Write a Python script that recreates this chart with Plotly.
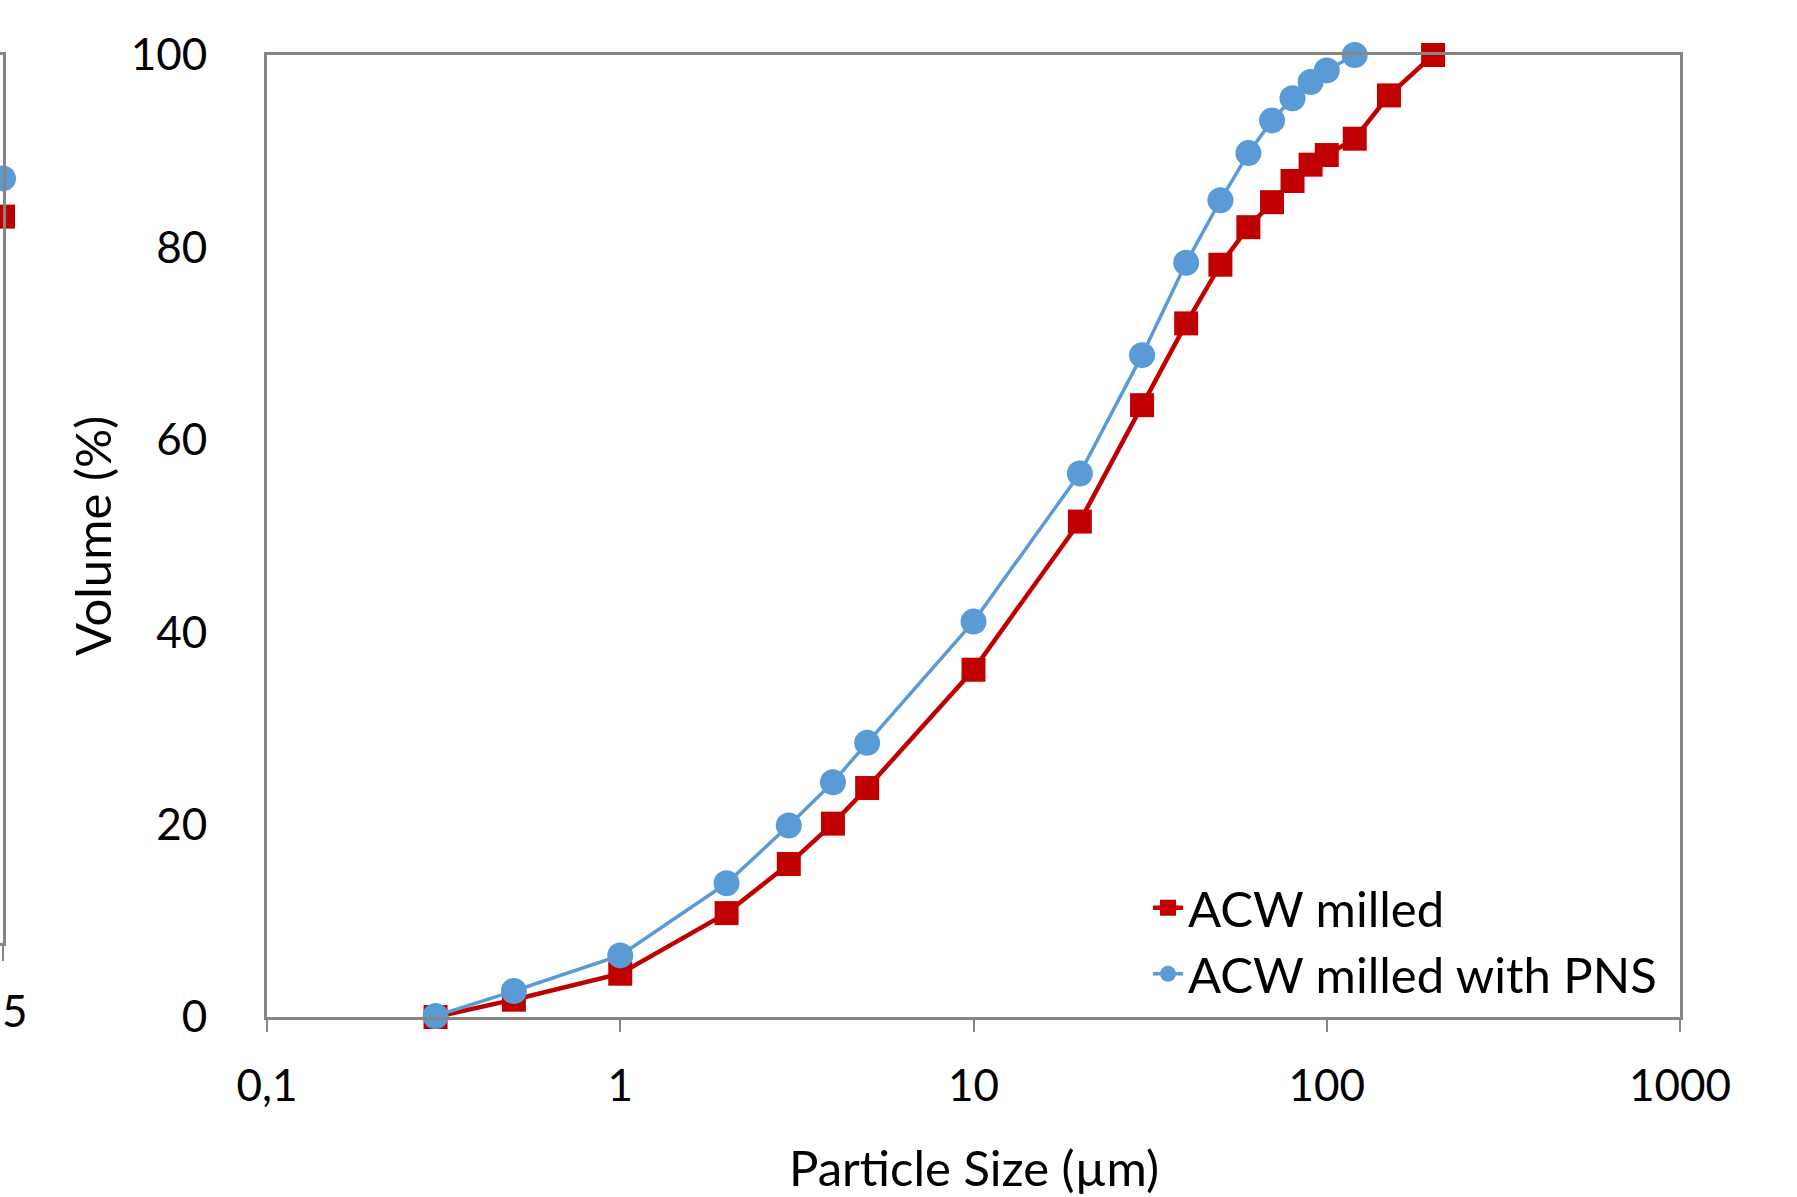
import plotly.graph_objects as go

# ---- data ----
size_um = [0.3, 0.5, 1, 2, 3, 4, 5, 10, 20, 30, 40, 50, 60, 70, 80, 90, 100, 120, 150, 200]
acw_milled = [0.0, 1.8, 4.5, 10.8, 15.9, 20.1, 23.8, 36.1, 51.5, 63.6, 72.1, 78.2, 82.1, 84.7, 86.9, 88.6, 89.6, 91.3, 95.8, 100.0]

size_um_pns = [0.3, 0.5, 1, 2, 3, 4, 5, 10, 20, 30, 40, 50, 60, 70, 80, 90, 100, 120]
acw_milled_pns = [0.1, 2.7, 6.4, 13.9, 19.9, 24.4, 28.5, 41.1, 56.5, 68.8, 78.4, 84.9, 89.8, 93.2, 95.5, 97.2, 98.4, 100.0]

x_tick_vals = [0.1, 1, 10, 100, 1000]
x_tick_text = ["0,1", "1", "10", "100", "1000"]
y_tick_vals = [0, 20, 40, 60, 80, 100]

# neighbouring (cropped) chart at the left edge: only its last points are visible
neighbor_x = [50]
neighbor_red = [81.8]
neighbor_blue = [86.1]
neighbor_tick_text = "5"

RED = "#C00000"
BLUE = "#5B9BD5"
AXIS = "#868686"
FONT = "Lato"
W, H = 1797, 1197


def px(x):
    return x / W


def py(y):
    return (H - y) / H


# pixel geometry of main plot area
L, R, T, B = 267, 1680, 55, 1017

fig = go.Figure()

fig.add_trace(go.Scatter(
    x=size_um, y=acw_milled, mode="lines+markers", name="ACW milled",
    line=dict(color=RED, width=4.5),
    marker=dict(symbol="square", size=24, color=RED),
    legend="legend", cliponaxis=False,
))
fig.add_trace(go.Scatter(
    x=size_um_pns, y=acw_milled_pns, mode="lines+markers", name="ACW milled with PNS",
    line=dict(color=BLUE, width=3.5),
    marker=dict(symbol="circle", size=26, color=BLUE),
    legend="legend2", cliponaxis=False,
))

# neighbour chart fragments
fig.add_trace(go.Scatter(
    x=neighbor_x, y=neighbor_blue, mode="markers", xaxis="x2", yaxis="y2",
    marker=dict(symbol="circle", size=26, color=BLUE), showlegend=False, cliponaxis=False,
))
fig.add_trace(go.Scatter(
    x=neighbor_x, y=neighbor_red, mode="markers", xaxis="x2", yaxis="y2",
    marker=dict(symbol="square", size=24, color=RED), showlegend=False, cliponaxis=False,
))

tick_font = dict(family=FONT, size=44, color="black")
text_font = dict(family=FONT, size=49, color="black")

fig.update_layout(
    width=W, height=H,
    margin=dict(l=0, r=0, t=0, b=0),
    paper_bgcolor="white", plot_bgcolor="white",
    xaxis=dict(
        type="log", range=[-1, 3], domain=[px(L), px(R)],
        tickvals=x_tick_vals, ticktext=x_tick_text,
        ticks="outside", ticklen=12, tickwidth=2, tickcolor=AXIS,
        showline=True, linecolor=AXIS, linewidth=3, mirror=True,
        showgrid=False, zeroline=False, tickfont=tick_font,
        ticklabelstandoff=16, automargin=False,
    ),
    yaxis=dict(
        range=[0, 100], domain=[py(B), py(T)],
        tickvals=y_tick_vals, ticks="",
        showline=True, linecolor=AXIS, linewidth=3, mirror=True,
        showgrid=False, zeroline=False, tickfont=tick_font,
        ticklabelstandoff=48, automargin=False,
    ),
    xaxis2=dict(
        range=[0, 50], domain=[0, px(3)], anchor="y2",
        showticklabels=False,
        ticks="outside", ticklen=15, tickwidth=2, tickcolor=AXIS,
        tickvals=neighbor_x,
        showline=True, linecolor=AXIS, linewidth=3, mirror=True,
        showgrid=False, zeroline=False, automargin=False,
    ),
    yaxis2=dict(
        range=[0, 100], domain=[py(943), py(T)], anchor="x2",
        side="right", showticklabels=False, ticks="",
        showline=True, linecolor=AXIS, linewidth=3,
        showgrid=False, zeroline=False, automargin=False,
    ),
    legend=dict(
        x=px(1188 - 40), y=py(908), xanchor="left", yanchor="middle",
        font=text_font, bgcolor="rgba(0,0,0,0)", itemsizing="trace",
    ),
    legend2=dict(
        x=px(1188 - 40), y=py(974), xanchor="left", yanchor="middle",
        font=text_font, bgcolor="rgba(0,0,0,0)", itemsizing="trace",
    ),
    annotations=[
        dict(text="Particle Size (µm)", x=px((L + R) / 2), y=py(1167),
             xref="paper", yref="paper", showarrow=False,
             xanchor="center", yanchor="middle", font=text_font),
        dict(text="Volume (%)", x=px(92), y=py(536),
             xref="paper", yref="paper", showarrow=False, textangle=-90,
             xanchor="center", yanchor="middle", font=text_font),
        dict(text=neighbor_tick_text, x=px(0), y=py(1010),
             xref="paper", yref="paper", showarrow=False,
             xanchor="left", yanchor="middle", font=tick_font),
    ],
)

fig.write_html("out.html", config={"displayModeBar": False},
               post_script="document.body.style.margin='0';")
